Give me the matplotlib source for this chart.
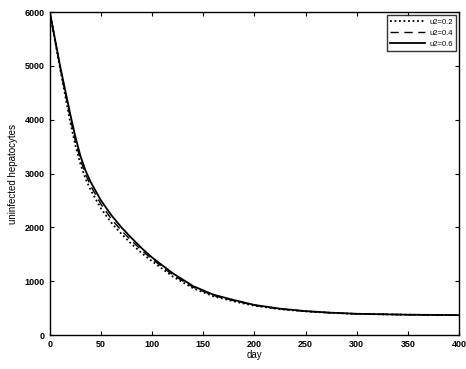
import matplotlib
matplotlib.use("Agg")
import matplotlib.pyplot as plt

plt.rcParams['font.family'] = ['Liberation Sans', 'DejaVu Sans']

days = [0, 10, 20, 25, 30, 35, 40, 50, 60, 70, 80, 90, 100, 120, 140, 160, 180, 200, 225, 250, 275, 300, 350, 400]
u02 = [6000, 4950, 3950, 3520, 3170, 2900, 2690, 2350, 2090, 1880, 1690, 1520, 1370, 1090, 870, 720, 625, 545, 480, 440, 412, 393, 377, 370]
u04 = [6000, 4980, 4030, 3600, 3250, 2980, 2770, 2430, 2160, 1940, 1750, 1570, 1410, 1120, 890, 735, 638, 552, 485, 442, 413, 394, 378, 370]
u06 = [6000, 5000, 4100, 3680, 3320, 3050, 2840, 2500, 2230, 2000, 1800, 1610, 1440, 1150, 910, 750, 650, 560, 490, 445, 415, 395, 378, 370]
labels = ['u2=0.2', 'u2=0.4', 'u2=0.6']
xticks = [0, 50, 100, 150, 200, 250, 300, 350, 400]
yticks = [0, 1000, 2000, 3000, 4000, 5000, 6000]

fig = plt.figure(figsize=(4.66, 3.69), dpi=100)
ax = fig.add_axes([0.107, 0.092, 0.878, 0.875])
ax.plot(days, u02, color='black', linestyle=(0, (1, 1.5)), linewidth=1.3, label=labels[0])
ax.plot(days, u04, color='black', linestyle=(0, (6, 4)), linewidth=1.0, label=labels[1])
ax.plot(days, u06, color='black', linestyle='-', linewidth=1.3, label=labels[2])

ax.set_xlim(0, 400)
ax.set_ylim(0, 6000)
ax.set_xticks(xticks)
ax.set_yticks(yticks)
ax.tick_params(direction='in', top=True, right=True, labelsize=6.5, length=3, width=0.8)
for lab in ax.get_xticklabels() + ax.get_yticklabels():
    lab.set_fontweight('bold')
for s in ax.spines.values():
    s.set_linewidth(1.0)
ax.set_xlabel('day', fontsize=7, labelpad=1)
ax.set_ylabel('uninfected hepatocytes', fontsize=7, labelpad=5)

leg = ax.legend(loc='upper right', fontsize=5.5, frameon=True, fancybox=False,
                edgecolor='black', handlelength=4.5, borderpad=0.4, labelspacing=0.5,
                handletextpad=0.6, borderaxespad=0.4)
leg.get_frame().set_linewidth(1.0)

fig.savefig('out.png', dpi=100)
